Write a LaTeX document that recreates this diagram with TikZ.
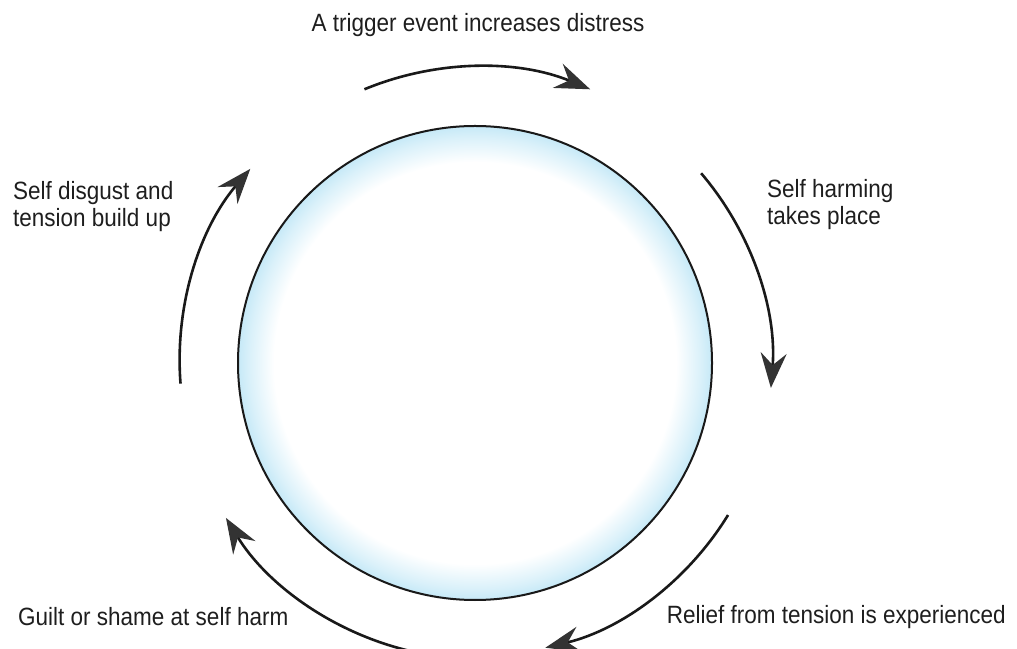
\documentclass[tikz,border=0pt]{standalone}
\usepackage{fontspec}
\setmainfont{Liberation Sans}[FakeStretch=0.9]
\usepackage{xcolor}
\usepackage{tikz}
\usetikzlibrary{arrows.meta}

\definecolor{rimblue}{RGB}{198,233,247}
\definecolor{inkgray}{RGB}{30,30,30}
\pgfdeclareradialshading{rimshade}{\pgfpoint{0bp}{0bp}}{color(0bp)=(white); color(21.2bp)=(white); color(23.8bp)=(rimblue!65); color(25bp)=(rimblue); color(50bp)=(rimblue)}

\begin{document}
\begin{tikzpicture}[x=1pt, y=1pt, font=\fontsize{25}{27}\selectfont,
  stage/.style={text=inkgray, inner sep=0pt, align=left},
  cyclearrow/.style={line width=2.6pt, draw=black!90,
    -{Stealth[length=35pt, width=26pt, inset=12pt, color=black!80]}}]
  \useasboundingbox (0,0) rectangle (1017,648);
  \clip (0,0) rectangle (1017,648);

  % the circle and the ring the arrows run on
  \node[circle, minimum size=474pt, inner sep=0pt, draw=black!90, line width=2pt,
        shade, shading=rimshade] (hub) at (475,285) {};
  \node[circle, minimum size=590pt, inner sep=0pt] (ring) at (hub.center) {};

  \draw[cyclearrow] (ring.112.5) arc[start angle=112.5, end angle=67.5, radius=295];
  \draw[cyclearrow] (ring.40.5) arc[start angle=40.5, end angle=-4.5, radius=295];
  \draw[cyclearrow] (ring.-31.5) arc[start angle=-31.5, end angle=-76.5, radius=295];
  \draw[cyclearrow] (ring.-103.5) arc[start angle=-103.5, end angle=-148.5, radius=295];
  \draw[cyclearrow] (ring.184.5) arc[start angle=184.5, end angle=139.5, radius=295];

  % stages
  \node[stage, anchor=base] (trigger) at (478,616) {A trigger event increases distress};
  \node[stage, anchor=base west] (harming) at (767,423) {Self harming\\takes place};
  \node[stage, anchor=base east] (relief) at (1006,25) {Relief from tension is experienced};
  \node[stage, anchor=base west] (guilt) at (18,23) {Guilt or shame at self harm};
  \node[stage, anchor=base west] (disgust) at (13,421) {Self disgust and\\tension build up};
\end{tikzpicture}
\end{document}
